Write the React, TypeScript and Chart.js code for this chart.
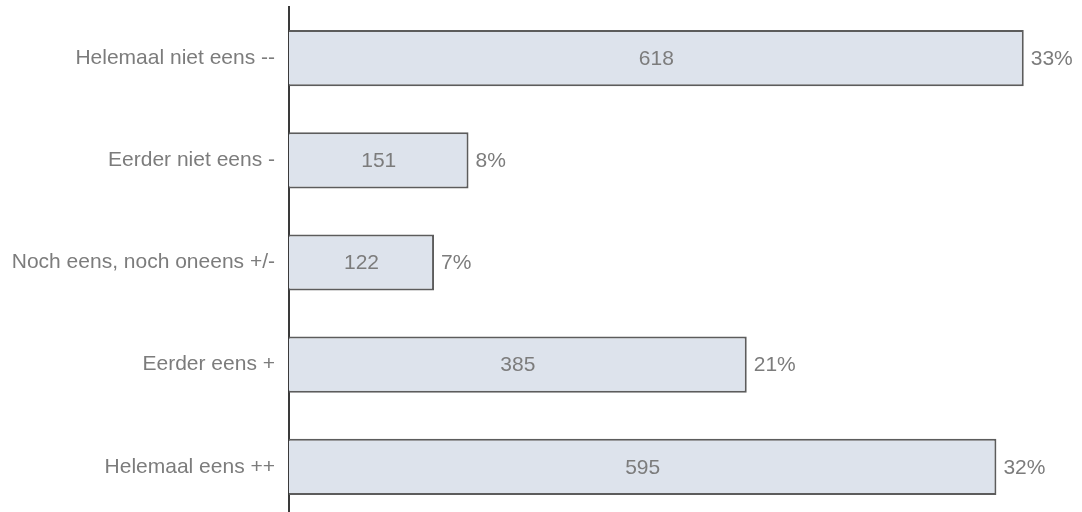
import React, { useEffect, useRef } from "react";
import { Chart, registerables } from "chart.js";

Chart.register(...registerables);

const categories = [
  "Helemaal niet eens --",
  "Eerder niet eens -",
  "Noch eens, noch oneens +/-",
  "Eerder eens +",
  "Helemaal eens ++",
];
const counts = [618, 151, 122, 385, 595];
const percents = ["33%", "8%", "7%", "21%", "32%"];

const TEXT_COLOR = "#7c7c7c";
const FONT_FAMILY = "'Liberation Sans', Arial, sans-serif";
const FONT_SIZE = 21;

const labelPlugin = {
  id: "barLabels",
  afterDatasetsDraw(chart: any) {
    const ctx = chart.ctx;
    const meta = chart.getDatasetMeta(0);
    ctx.save();
    ctx.font = `${FONT_SIZE}px ${FONT_FAMILY}`;
    ctx.fillStyle = TEXT_COLOR;
    ctx.textBaseline = "middle";
    meta.data.forEach((bar: any, i: number) => {
      const { x, y, base } = bar.getProps(["x", "y", "base"], true);
      ctx.textAlign = "center";
      ctx.fillText(String(counts[i]), (x + base) / 2, y + 1);
      ctx.textAlign = "left";
      ctx.fillText(percents[i], x + 7, y + 1);
    });
    ctx.restore();
  },
};

export default function App() {
  const ref = useRef<HTMLCanvasElement | null>(null);
  useEffect(() => {
    if (!ref.current) return;
    const chart = new Chart(ref.current, {
      type: "bar",
      data: {
        labels: categories,
        datasets: [
          {
            data: counts,
            backgroundColor: "#dde3ec",
            borderColor: "#5c5c5c",
            borderWidth: 2,
            categoryPercentage: 1,
            barPercentage: 0.55,
          },
        ],
      },
      options: {
        indexAxis: "y",
        animation: false,
        responsive: false,
        devicePixelRatio: 1,
        layout: { padding: { top: 7, bottom: 0, left: 0, right: 0 } },
        plugins: {
          legend: { display: false },
          tooltip: { enabled: false },
        },
        scales: {
          x: {
            display: false,
            min: 0,
            max: 667,
          },
          y: {
            grid: { display: false, drawTicks: false, tickLength: 0 },
            border: { display: true, color: "#3a3a3a", width: 2 },
            ticks: {
              color: TEXT_COLOR,
              font: { size: FONT_SIZE, family: FONT_FAMILY },
              padding: 14,
            },
            afterFit(scale: any) {
              scale.width = 289;
              scale.paddingTop = 0;
              scale.paddingBottom = 0;
            },
          },
        },
      },
      plugins: [labelPlugin],
    });
    return () => chart.destroy();
  }, []);

  return (
    <div
      style={{
        position: "fixed",
        left: 0,
        top: 0,
        width: 1082,
        height: 512,
        overflow: "hidden",
        background: "#ffffff",
      }}
    >
      <canvas ref={ref} width={1082} height={518} style={{ display: "block", width: 1082, height: 518 }} />
    </div>
  );
}
